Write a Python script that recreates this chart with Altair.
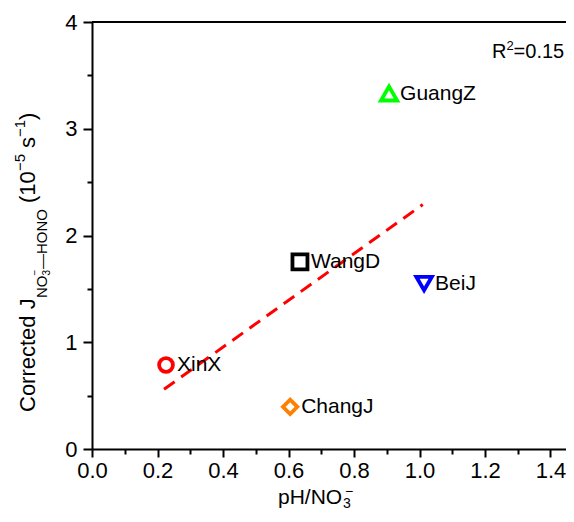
import altair as alt
import pandas as pd

# ---- data ----
sites = ["XinX", "ChangJ", "WangD", "BeiJ", "GuangZ"]
ph_no3 = [0.226, 0.605, 0.635, 1.014, 0.907]
j_corr = [0.787, 0.395, 1.752, 1.55, 3.33]
fit_x = [0.22, 1.01]
fit_y = [0.56, 2.29]
x_ticks = [round(i * 0.1, 1) for i in range(15)]
y_ticks = [i * 0.5 for i in range(9)]
r2_text = "0.15"

shapes = ["circle", "diamond", "square", "triangle-down", "triangle-up"]
colors = ["#ff0000", "#ff8000", "#000000", "#0000ff", "#00ff00"]
sizes = [190, 260, 160, 220, 220]

W, H = 474, 427
FONT = "Liberation Sans"

pts = pd.DataFrame({"site": sites, "x": ph_no3, "y": j_corr})
fit = pd.DataFrame({"x": fit_x, "y": fit_y})
one = pd.DataFrame({"a": [0]})

xscale = alt.Scale(domain=[0, W / 327.5], nice=False, zero=False)
yscale = alt.Scale(domain=[0, 4], nice=False, zero=False)

xaxis = alt.Axis(
    values=x_ticks,
    labelExpr="round(datum.value*10) % 2 == 0 ? format(datum.value, '.1f') : ''",
    tickSize={"condition": {"test": "round(datum.value*10) % 2 == 0", "value": 8}, "value": 5},
    labelOverlap=False, labelFlush=False, labelPadding=3, grid=False,
)
yaxis = alt.Axis(
    values=y_ticks,
    labelExpr="datum.value % 1 == 0 ? format(datum.value, 'd') : ''",
    tickSize={"condition": {"test": "datum.value % 1 == 0", "value": 9}, "value": 5},
    labelOverlap=False, labelFlush=False, labelPadding=6, grid=False,
)

X = alt.X("x:Q", scale=xscale, axis=xaxis, title=None)
Y = alt.Y("y:Q", scale=yscale, axis=yaxis, title=None)

points = alt.Chart(pts).mark_point(filled=False, strokeWidth=3.8, opacity=1).encode(
    x=X, y=Y,
    shape=alt.Shape("site:N", scale=alt.Scale(domain=sites, range=shapes), legend=None),
    color=alt.Color("site:N", scale=alt.Scale(domain=sites, range=colors), legend=None),
    size=alt.Size("site:N", scale=alt.Scale(domain=sites, range=sizes), legend=None),
)

labels = alt.Chart(pts).mark_text(align="left", baseline="middle", dx=11, font=FONT,
                                  fontSize=21, color="black").encode(
    x=X, y=Y, text="site:N")

line = alt.Chart(fit).mark_line(color="#ff0000", strokeWidth=3, strokeDash=[13, 8]).encode(
    x=X, y=Y)

top_rule = alt.Chart(one).mark_rule(color="black", strokeWidth=2).encode(
    x=alt.value(0), x2=alt.value(W), y=alt.value(0))


def txt(s, x, y, size, angle=0):
    kw = dict(align="left", baseline="alphabetic", font=FONT, fontSize=size, color="black")
    if angle:
        kw["angle"] = angle
    return alt.Chart(one).mark_text(**kw).encode(
        x=alt.value(x), y=alt.value(y), text=alt.value(s))


# y-axis title pieces (rotated)
bx, bsub, bsup = -57, -45, -67
ytitle = [
    txt("Corrected J", bx, 390, 22, 270),
    txt("NO", bsub, 276, 15, 270),
    txt("3", bsub + 3, 253.5, 10, 270),
    txt("\u2212", bsub - 9, 253.5, 10, 270),
    txt("\u2014HONO", bsub, 247, 15, 270),
    txt("(10", bx, 181, 22, 270),
    txt("\u22125", bsup, 149, 15, 270),
    txt("s", bx, 126, 22, 270),
    txt("\u22121", bsup, 115, 15, 270),
    txt(")", bx, 98, 22, 270),
]

# x-axis title pieces
xtitle = [
    txt("pH/NO", 186, 482, 21),
    txt("3", 251, 486, 14),
    txt("\u2212", 253, 474, 14),
]

# R^2 annotation
r2 = [
    txt("R", 400, 36, 20),
    txt("2", 414.4, 28, 13),
    txt("=" + r2_text, 421.6, 36, 20),
]

chart = alt.layer(line, points, labels, top_rule, *ytitle, *xtitle, *r2).properties(
    width=W, height=H,
    autosize=alt.AutoSizeParams(type="none"),
    padding={"left": 84, "top": 14, "right": 0, "bottom": 66},
).configure_view(stroke=None).configure_axis(
    domainColor="black", domainWidth=2, tickColor="black", tickWidth=2,
    labelFont=FONT, labelFontSize=22, labelColor="black",
)

chart.save("out.html", embed_options={"renderer": "svg", "actions": False})
